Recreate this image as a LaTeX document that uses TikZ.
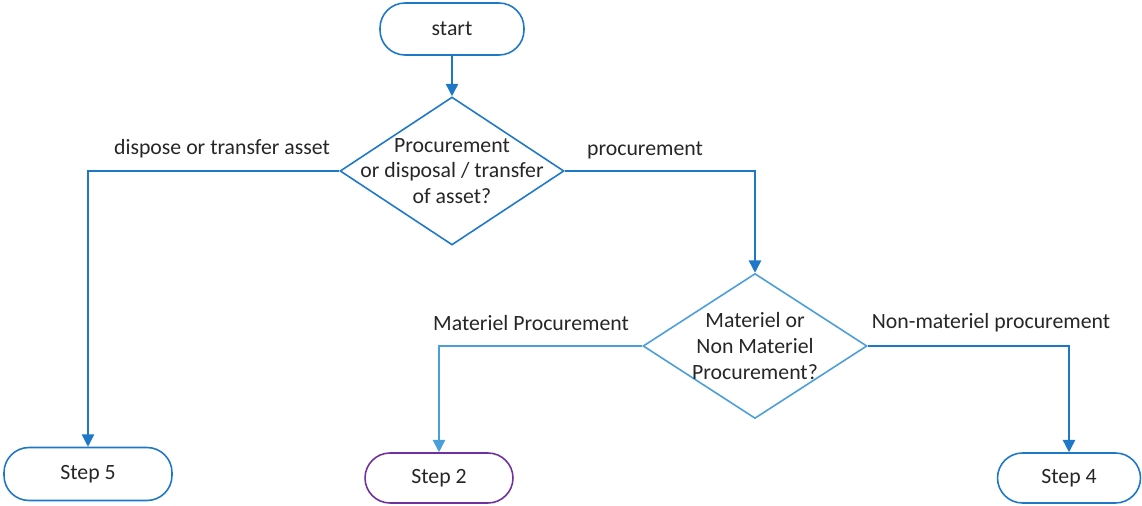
\documentclass[tikz,border=0pt]{standalone}
\usepackage{fontspec}
\setmainfont{Carlito}
\usetikzlibrary{shapes.geometric,arrows.meta}
\definecolor{mainblue}{HTML}{1E78C8}
\definecolor{lightblue}{HTML}{4A9FDB}
\definecolor{stepviolet}{HTML}{7030A0}
\definecolor{txt}{HTML}{262626}
\begin{document}
\begin{tikzpicture}[x=0.02cm,y=-0.02cm,
  every node/.style={text=txt,font=\fontsize{12.4pt}{14.7pt}\selectfont},
  term/.style={draw=mainblue,line width=0.9pt,rectangle,rounded corners=0.5cm,inner sep=0pt},
  dia/.style={draw=mainblue,line width=0.9pt,diamond,inner sep=0pt,minimum width=4.48cm,minimum height=2.96cm},
  conn/.style={draw=mainblue,line width=0.9pt,-{Triangle[length=7pt,width=7pt]}},
  lab/.style={inner sep=0pt}]
\useasboundingbox (0,0) rectangle (1142,506);
\node[term,minimum width=2.88cm,minimum height=1.04cm] (start) at (452,29) {start};
\node[dia] (d1) at (452,171) {};
\node[align=center,inner sep=0pt] (t1) at (d1) {Procurement\\or disposal / transfer\\of asset?};
\node[dia,draw=lightblue,minimum height=2.9cm] (d2) at (755,346) {};
\node[align=center,inner sep=0pt] (t2) at (d2) {Materiel or\\Non Materiel\\Procurement?};
\node[term,minimum width=3.36cm,minimum height=1.06cm] (s5) at (88,474) {Step 5};
\node[term,draw=stepviolet,minimum width=2.96cm,minimum height=1.0cm] (s2) at (439,478) {Step 2};
\node[term,minimum width=2.86cm,minimum height=1.0cm] (s4) at (1069,478) {Step 4};
\draw[conn] (start.south) -- (d1.north);
\draw[conn] (d1.west) -| (s5.north);
\draw[conn] (d1.east) -| (d2.north);
\draw[conn,draw=lightblue] (d2.west) -| (s2.north);
\draw[conn] (d2.east) -| (s4.north);
\node[lab] (l1) at (222,149) {dispose or transfer asset};
\node[lab] (l2) at (645,150) {procurement};
\node[lab] (l3) at (531,323) {Materiel Procurement};
\node[lab] (l4) at (991,323) {Non-materiel procurement};
\end{tikzpicture}
\end{document}
